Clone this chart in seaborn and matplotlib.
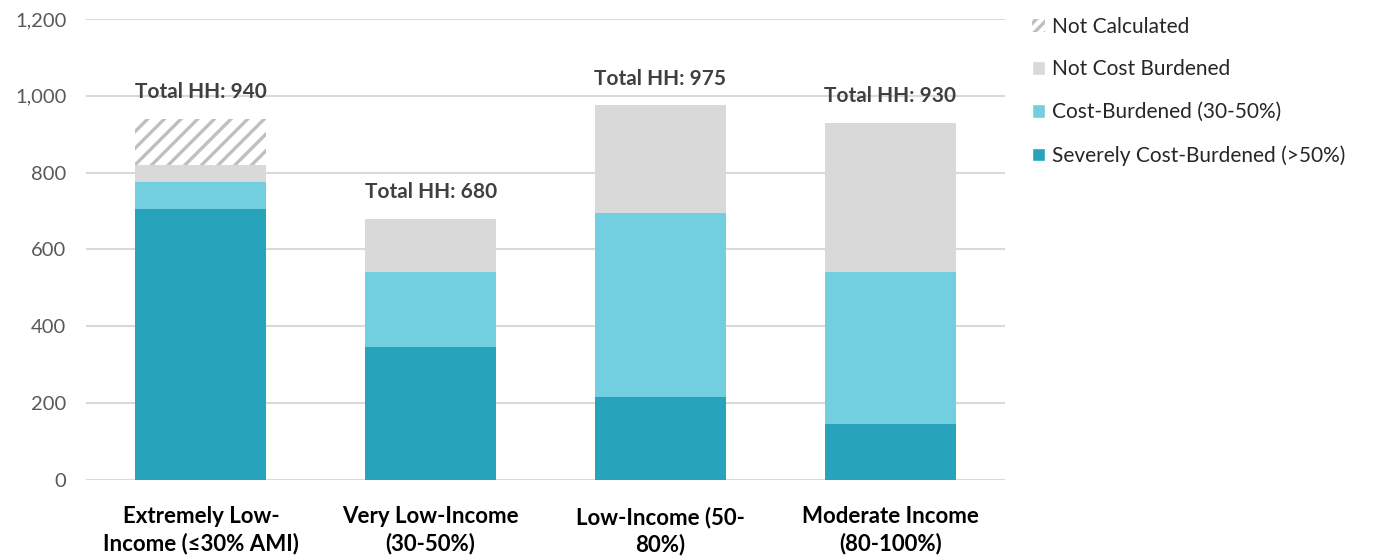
import numpy as np
import pandas as pd
import matplotlib.pyplot as plt
import seaborn as sns
from matplotlib.patches import Patch

# data
categories = ["Extremely Low-\nIncome (\u226430% AMI)", "Very Low-Income\n(30-50%)",
              "Low-Income (50-\n80%)", "Moderate Income\n(80-100%)"]
severe = [705, 345, 215, 145]
cost_burdened = [70, 195, 480, 395]
not_burdened = [45, 140, 280, 390]
not_calculated = [120, 0, 0, 0]
series_names = ["Severely Cost-Burdened (>50%)", "Cost-Burdened (30-50%)",
                "Not Cost Burdened", "Not Calculated"]
colors = ["#27A3BC", "#72CFE0", "#D9D9D9", "white"]

sns.set_theme(style="white")
plt.rcParams["font.family"] = ["Lato", "DejaVu Sans"]
plt.rcParams["hatch.color"] = "#BFBFBF"
plt.rcParams["hatch.linewidth"] = 2.4

layers = np.array([severe, cost_burdened, not_burdened, not_calculated])
tops = np.cumsum(layers, axis=0)
totals = tops[-1]

fig = plt.figure(figsize=(13.73, 5.58), dpi=100)
ax = fig.add_axes([0.0626, 0.140, 0.6694, 0.826])

# draw cumulative tops from the biggest down so each layer shows its own slice
for i in range(len(series_names) - 1, -1, -1):
    df = pd.DataFrame({"cat": categories, "val": tops[i]})
    if series_names[i] == "Not Calculated":
        sns.barplot(data=df, x="cat", y="val", color="white", width=0.57,
                    saturation=1, ax=ax, zorder=3, linewidth=0,
                    edgecolor="#BFBFBF", hatch="//")
    else:
        sns.barplot(data=df, x="cat", y="val", color=colors[i], width=0.57,
                    saturation=1, ax=ax, zorder=3, linewidth=0)

for j, t in enumerate(totals):
    ax.annotate(f"Total HH: {t}", (j, t), xytext=(0, 19), textcoords="offset points",
                ha="center", va="center", fontsize=15, fontweight="bold", color="#404040")

ax.set_ylim(0, 1200)
ax.set_xlim(-0.5, 3.5)
ax.set_yticks(range(0, 1201, 200))
ax.set_yticklabels([f"{v:,}" for v in range(0, 1201, 200)])
ax.yaxis.grid(True, color="#D9D9D9", linewidth=1.5, zorder=0)
ax.set_axisbelow(True)
for s in ax.spines.values():
    s.set_visible(False)
ax.set_xlabel("")
ax.set_ylabel("")
ax.tick_params(axis="y", length=0, pad=14, labelsize=14.5, labelcolor="#595959")
ax.tick_params(axis="x", length=0, pad=19, labelsize=16, labelcolor="black")
for lab in ax.get_xticklabels():
    lab.set_fontweight("bold")
    lab.set_linespacing(1.3)

handles = [Patch(facecolor="white", hatch="///", edgecolor="#BFBFBF", linewidth=0),
           Patch(facecolor=colors[2]), Patch(facecolor=colors[1]), Patch(facecolor=colors[0])]
labels = ["Not Calculated", "Not Cost Burdened", "Cost-Burdened (30-50%)",
          "Severely Cost-Burdened (>50%)"]
fig.legend(handles, labels, loc="upper left", bbox_to_anchor=(0.738, 1.004),
           frameon=False, fontsize=15, handlelength=0.6, handleheight=0.6,
           handletextpad=0.35, labelspacing=1.1, labelcolor="#262626")

fig.savefig("out.png", dpi=100)
